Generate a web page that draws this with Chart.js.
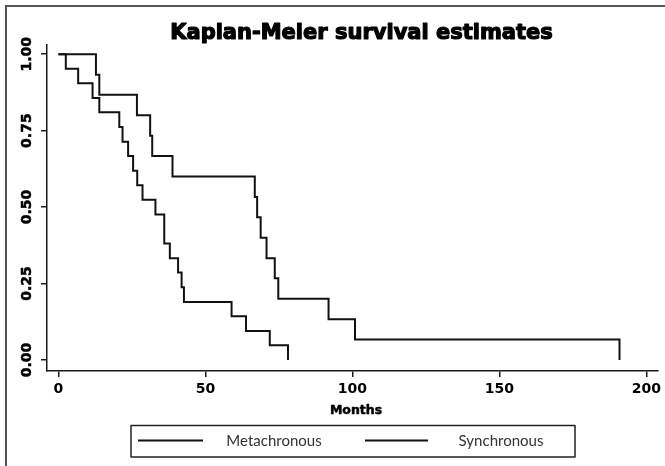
<!DOCTYPE html>
<html>
<head>
<meta charset="utf-8">
<script src="https://cdn.jsdelivr.net/npm/chart.js@4/dist/chart.umd.min.js"></script>
<style>
  html, body { margin: 0; padding: 0; background: #fff; }
  #wrap { width: 665px; height: 466px; }
</style>
</head>
<body>
<div id="wrap"><canvas id="chart" width="665" height="466"></canvas></div>
<script>
// survival data (months, survival after the step)
var metaTimes = [0, 12.75, 13.9, 26.7, 31.2, 31.9, 38.8, 66.8, 67.6, 68.8, 70.8, 73.6, 74.8, 91.9, 100.9, 190.9];
var metaSurv  = [1, 0.933, 0.867, 0.8, 0.733, 0.667, 0.6, 0.533, 0.467, 0.4, 0.333, 0.267, 0.2, 0.133, 0.067, 0];

var syncTimes = [0, 2.5, 6.7, 11.6, 13.9, 20.7, 21.8, 23.7, 25.4, 26.8, 28.6, 33.0, 36.0, 37.9, 40.7, 41.9, 42.7, 58.9, 63.8, 71.9, 78.1];
var syncSurv  = [1, 0.952, 0.905, 0.857, 0.81, 0.762, 0.714, 0.667, 0.619, 0.571, 0.524, 0.476, 0.381, 0.333, 0.286, 0.238, 0.19, 0.143, 0.095, 0.048, 0];

var xTicks = [0, 50, 100, 150, 200];
var yTicks = [0, 0.25, 0.5, 0.75, 1];
var yLabels = ['0.00', '0.25', '0.50', '0.75', '1.00'];

var seriesNames = ['Metachronous', 'Synchronous'];
var chartTitle = 'Kaplan-Meier survival estimates';
var xTitle = 'Months';

function toPoints(t, s) {
    var pts = [];
    for (var i = 0; i < t.length; i++) pts.push({x: t[i], y: s[i]});
    return pts;
}

var axisColor = '#1a1a1a';

// heavy text: fill plus a thin stroke, closer to the black face of the original
function heavyText(ctx, txt, x, y, w) {
    ctx.lineWidth = w;
    ctx.lineJoin = 'round';
    ctx.strokeStyle = ctx.fillStyle;
    ctx.strokeText(txt, x, y);
    ctx.fillText(txt, x, y);
}

// title, y labels, axis title, legend box and outer frame
var extras = {
    id: 'extras',
    beforeDraw: function(chart) {
        var ctx = chart.ctx;
        ctx.save();
        ctx.fillStyle = '#fff';
        ctx.fillRect(0, 0, chart.width, chart.height);
        ctx.strokeStyle = '#555';
        ctx.lineWidth = 2;
        ctx.strokeRect(6, 6, chart.width + 10, chart.height + 10);
        ctx.restore();
    },
    afterDraw: function(chart) {
        var ctx = chart.ctx;
        var ys = chart.scales.y;
        ctx.save();
        ctx.fillStyle = '#000';
        ctx.textAlign = 'center';
        ctx.textBaseline = 'alphabetic';
        ctx.font = 'bold 21px "DejaVu Sans"';
        heavyText(ctx, chartTitle, 361.5, 38.5, 1.2);

        ctx.font = 'bold 14px "DejaVu Sans"';
        ctx.textBaseline = 'middle';
        yTicks.forEach(function(v, i) {
            var py = ys.getPixelForValue(v);
            ctx.save();
            ctx.translate(27, py);
            ctx.rotate(-Math.PI / 2);
            heavyText(ctx, yLabels[i], 0, 0, 0.5);
            ctx.restore();
        });

        ctx.font = 'bold 12.5px "DejaVu Sans"';
        heavyText(ctx, xTitle, 356, 410.5, 0.5);

        // legend
        ctx.strokeStyle = '#222';
        ctx.lineWidth = 1.5;
        ctx.strokeRect(131, 425.5, 444, 31.5);
        ctx.lineWidth = 2;
        ctx.strokeStyle = '#111';
        ctx.beginPath();
        ctx.moveTo(138, 440.5); ctx.lineTo(203, 440.5);
        ctx.moveTo(365, 440.5); ctx.lineTo(428, 440.5);
        ctx.stroke();
        ctx.fillStyle = '#333';
        ctx.font = '15px Lato';
        ctx.fillText(seriesNames[0], 274, 441.5);
        ctx.fillText(seriesNames[1], 501, 441.5);
        ctx.restore();
    }
};

var gridOpts = {
    drawOnChartArea: false,
    drawTicks: true,
    tickLength: 6,
    color: axisColor,
    lineWidth: 1.5
};

var chart = new Chart(document.getElementById('chart').getContext('2d'), {
    type: 'line',
    data: {
        datasets: [
            {
                label: seriesNames[0],
                data: toPoints(metaTimes, metaSurv),
                borderColor: '#111',
                borderWidth: 2,
                pointRadius: 0,
                stepped: 'before',
                fill: false
            },
            {
                label: seriesNames[1],
                data: toPoints(syncTimes, syncSurv),
                borderColor: '#111',
                borderWidth: 2,
                pointRadius: 0,
                stepped: 'before',
                fill: false
            }
        ]
    },
    options: {
        responsive: false,
        devicePixelRatio: 1,
        animation: false,
        layout: { padding: { top: 45, right: 7, left: 0, bottom: 0 } },
        plugins: {
            legend: { display: false },
            title: { display: false },
            tooltip: { enabled: false }
        },
        scales: {
            x: {
                type: 'linear',
                min: -3.9,
                max: 203.8,
                afterBuildTicks: function(s) { s.ticks = xTicks.map(function(v) { return {value: v}; }); },
                afterFit: function(s) { s.height = 95; },
                grid: gridOpts,
                border: { display: true, color: axisColor, width: 1.5 },
                ticks: {
                    autoSkip: false,
                    maxRotation: 0,
                    padding: 4,
                    color: '#000',
                    font: { family: 'DejaVu Sans', weight: 'bold', size: 14 }
                }
            },
            y: {
                type: 'linear',
                min: -0.036,
                max: 1.03,
                afterBuildTicks: function(s) { s.ticks = yTicks.map(function(v) { return {value: v}; }); },
                afterFit: function(s) { s.width = 47; },
                grid: gridOpts,
                border: { display: true, color: axisColor, width: 1.5 },
                ticks: { display: false }
            }
        }
    },
    plugins: [extras]
});
</script>
</body>
</html>
